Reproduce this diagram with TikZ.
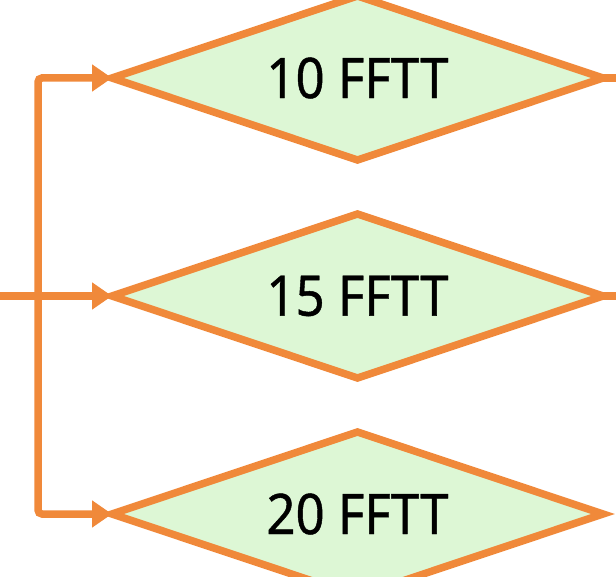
\documentclass[tikz,border=0pt]{standalone}
\usepackage{fontspec}
\newfontfamily\chkfont[FakeBold=0.8]{Noto Sans}
\usetikzlibrary{shapes.geometric, arrows.meta}

\definecolor{edgeorange}{RGB}{240,137,58}
\definecolor{boxgreen}{RGB}{221,247,213}

\newcommand{\chklabel}[1]{\scalebox{0.91}[1]{#1}}

\tikzset{
    check/.style={diamond, shape aspect=3, draw=edgeorange, fill=boxgreen, line width=7.5pt,
        minimum width=491pt, minimum height=164pt, inner sep=0pt, outer sep=0pt,
        font=\chkfont\fontsize{56}{60}\selectfont},
    flow/.style={draw=edgeorange, line width=7.5pt},
    into/.style={flow, -{Triangle[length=20pt, width=26pt]}}
}

\begin{document}
\begin{tikzpicture}[x=1pt, y=-1pt]
    \useasboundingbox (0,0) rectangle (616,577);

    % Checks
    \node[check] (c10) at (357.5, 78) {\chklabel{10 FFTT}};
    \node[check] (c15) at (357.5, 296) {\chklabel{15 FFTT}};
    \node[check] (c20) at (357.5, 514) {\chklabel{20 FFTT}};

    % Incoming line and split
    \coordinate (in) at (0, 296);
    \coordinate (split) at (38, 296);
    \draw[into] (in) -- (c15.west);
    \draw[into, rounded corners=4pt] (split) |- (c10.west);
    \draw[into, rounded corners=4pt] (split) |- (c20.west);

    % Outgoing lines
    \coordinate (out10) at (616, 78);
    \coordinate (out15) at (616, 296);
    \draw[flow] (c10.east) -- (out10);
    \draw[flow] (c15.east) -- (out15);
\end{tikzpicture}
\end{document}
